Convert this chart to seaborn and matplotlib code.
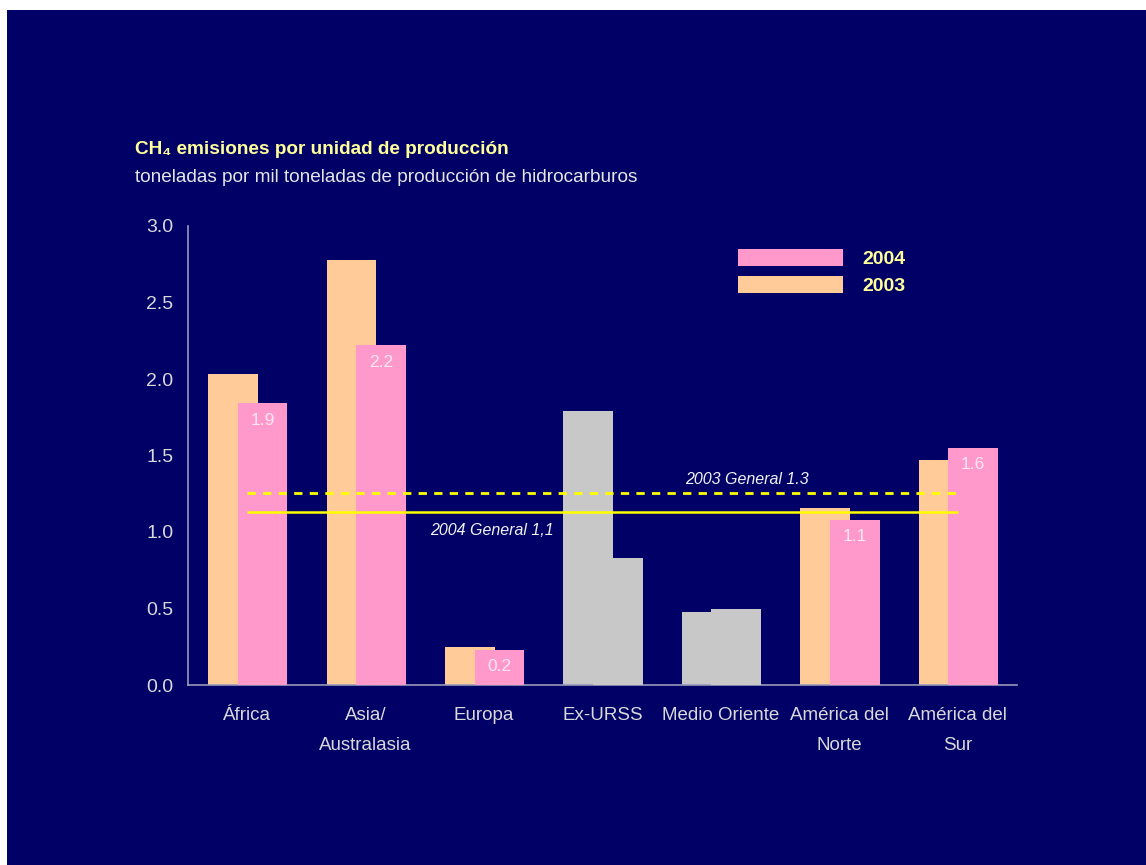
import matplotlib
matplotlib.use("Agg")
import matplotlib.pyplot as plt
from matplotlib.patches import Patch, Rectangle
import pandas as pd
import seaborn as sns

# data
regions = ["África", "Asia/\nAustralasia", "Europa", "Ex-URSS",
           "Medio Oriente", "América del\nNorte", "América del\nSur"]
values_2003 = [2.03, 2.78, 0.25, 1.79, 0.48, 1.16, 1.47]
values_2004 = [1.84, 2.22, 0.23, 0.83, 0.50, 1.08, 1.55]
labels_2004 = ["1.9", "2.2", "0.2", None, None, "1.1", "1.6"]
general_2003 = 1.255
general_2004 = 1.13

BG = "#000066"
C2003 = "#FFCC99"
C2004 = "#FF99CC"
GREY = "#C8C8C8"
grey_regions = ["Ex-URSS", "Medio Oriente"]

sns.set_style("white")
plt.rcParams["font.family"] = ["Liberation Sans", "DejaVu Sans"]

df = pd.DataFrame({"region": regions, "y2003": values_2003, "y2004": values_2004})
pal03 = {r: (GREY if r in grey_regions else C2003) for r in regions}
pal04 = {r: (GREY if r in grey_regions else C2004) for r in regions}

fig = plt.figure(figsize=(11.46, 8.65), dpi=100, facecolor="white")
fig.patches.append(Rectangle((7 / 1146, 0), 1, 855 / 865, transform=fig.transFigure,
                             facecolor=BG, edgecolor="none", zorder=-10))
ax = fig.add_axes([188 / 1146, 180 / 865, 829 / 1146, 459 / 865])
ax.set_facecolor(BG)

width = 0.42
sns.barplot(data=df, x="region", y="y2003", hue="region", palette=pal03,
            width=width, saturation=1, legend=False, ax=ax, zorder=2)
n03 = len(ax.patches)
sns.barplot(data=df, x="region", y="y2004", hue="region", palette=pal04,
            width=width, saturation=1, legend=False, ax=ax, zorder=3)

# overlap the two years like the original
for i, p in enumerate(ax.patches):
    shift = -0.12 if i < n03 else 0.13
    p.set_x(p.get_x() + shift)
    p.set_edgecolor("none")

# value labels inside the 2004 bars
for i, lab in enumerate(labels_2004):
    if lab:
        ax.annotate(lab, (i + 0.13, values_2004[i]), xytext=(0, -12),
                    textcoords="offset points", ha="center", va="center",
                    fontsize=12.5, color="#FFE6F2", zorder=5)

# general reference lines
ax.hlines(general_2003, 0, 6, colors="#FFFF00", linestyles=(0, (3, 2.6)),
          linewidth=2, zorder=4)
ax.hlines(general_2004, 0, 6, colors="#FFFF00", linewidth=1.8, zorder=4)
ax.text(4.74, 1.34, "2003 General 1.3", ha="right", va="center",
        style="italic", fontsize=11.5, color="#F2F2F2", zorder=5)
ax.text(1.54, 1.01, "2004 General 1,1", ha="left", va="center",
        style="italic", fontsize=11.5, color="#F2F2F2", zorder=5)

ax.set_xlim(-0.5, 6.5)
ax.set_ylim(0, 3.0)
ax.set_yticks([0, 0.5, 1.0, 1.5, 2.0, 2.5, 3.0])
ax.set_yticklabels([f"{v:.1f}" for v in ax.get_yticks()])
ax.set_xticks([x - 0.5 for x in range(8)])
ax.set_xticklabels([])
ax.set_xticks(range(len(regions)), minor=True)
ax.set_xticklabels(regions, minor=True, linespacing=2.0)
ax.set_xlabel("")
ax.set_ylabel("")

axis_col = "#9999BB"
for side in ["top", "right"]:
    ax.spines[side].set_visible(False)
for side in ["left", "bottom"]:
    ax.spines[side].set_color(axis_col)
    ax.spines[side].set_linewidth(1.2)
ax.tick_params(axis="both", which="major", direction="inout", length=9,
               color=axis_col, width=1.2)
ax.tick_params(axis="y", labelsize=14, labelcolor="#D9D9D9", pad=6)
ax.tick_params(axis="x", which="minor", length=0, pad=16,
               labelsize=13.5, labelcolor="#D9D9D9")

# legend (2004 first)
handles = [Patch(facecolor=C2004, edgecolor="none", label="2004"),
           Patch(facecolor=C2003, edgecolor="none", label="2003")]
leg = fig.legend(handles=handles, loc="upper left",
                 bbox_to_anchor=(738 / 1146, 1 - 249 / 865),
                 bbox_transform=fig.transFigure, frameon=False,
                 handlelength=5.4, handleheight=0.98, handletextpad=1.0,
                 labelspacing=0.4, borderpad=0, borderaxespad=0,
                 prop={"weight": "bold", "size": 14})
for t in leg.get_texts():
    t.set_color("#FFFF99")

fig.text(135 / 1146, 1 - 150 / 865, "CH₄ emisiones por unidad de producción",
         fontsize=13.7, fontweight="bold", color="#FFFF99", va="center")
fig.text(135 / 1146, 1 - 178 / 865,
         "toneladas por mil toneladas de producción de hidrocarburos",
         fontsize=13.7, color="#E6E6E6", va="center")

fig.savefig("out.png", dpi=100, facecolor=fig.get_facecolor())
